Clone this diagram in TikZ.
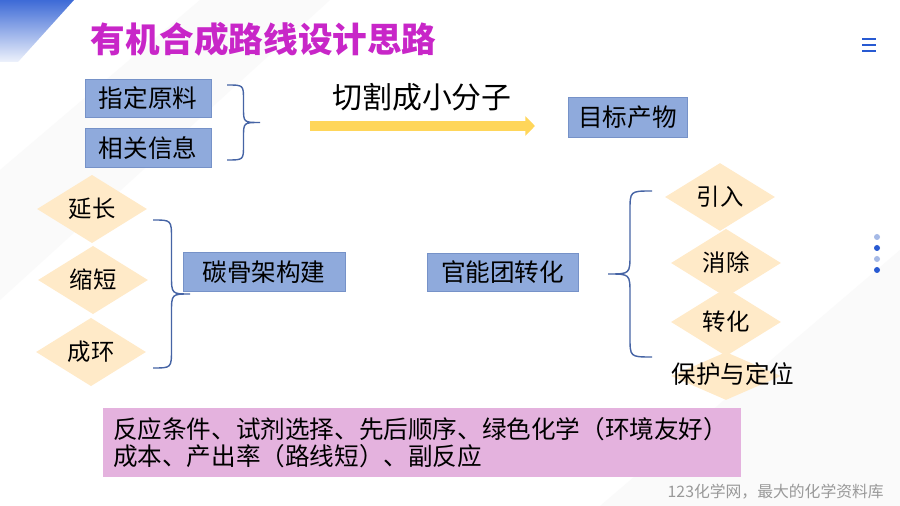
\documentclass[tikz,border=0pt]{standalone}
\usepackage{fontspec}
\setmainfont{Noto Sans CJK SC}
\usepackage{xcolor}
\usetikzlibrary{arrows.meta,shapes.geometric,positioning,calc}
\definecolor{titlemag}{RGB}{200,38,200}
\definecolor{boxblue}{RGB}{143,170,220}
\definecolor{boxedge}{RGB}{118,146,200}
\definecolor{diamyel}{RGB}{255,234,200}
\definecolor{notepink}{RGB}{228,178,222}
\definecolor{arrgold}{RGB}{255,214,90}
\definecolor{braceblue}{RGB}{70,100,165}
\definecolor{iconblue}{RGB}{40,90,210}
\definecolor{dotlight}{RGB}{165,185,230}
% curly brace: top, bottom, amplitude (px, signed), curl length (px)
\newcommand{\curlybrace}[4]{%
  \draw[brcline] (#1) .. controls ($(#1)+(#3/2,0)$) .. ($(#1)+(#3/2,#4)$)
    -- ($(#1)!0.5!(#2)+(#3/2,-#4)$) .. controls ($(#1)!0.5!(#2)+(#3/2,0)$) .. ($(#1)!0.5!(#2)+(#3,0)$)
    .. controls ($(#1)!0.5!(#2)+(#3/2,0)$) .. ($(#1)!0.5!(#2)+(#3/2,#4)$)
    -- ($(#2)+(#3/2,-#4)$) .. controls ($(#2)+(#3/2,0)$) .. (#2);}

\begin{document}
\begin{tikzpicture}[
    x=0.02cm, y=-0.02cm,
    box/.style     = {rectangle, draw=boxedge, fill=boxblue, minimum height=0.77cm,
                      inner sep=0pt, align=center, font=\fontsize{14}{16}\selectfont},
    diam/.style    = {diamond, fill=diamyel, minimum width=2.2cm, minimum height=0.96cm,
                      inner sep=0pt, font=\fontsize{13.3}{15}\selectfont},
    pinkbox/.style = {rectangle, fill=notepink, minimum width=12.76cm, minimum height=1.38cm,
                      text width=12.36cm, align=left, inner sep=0pt,
                      font=\fontsize{14}{15.6}\selectfont},
    brcline/.style = {draw=braceblue, line width=0.8pt},
    bigarr/.style  = {draw=arrgold, line width=5.6pt, -{Triangle[length=5.5pt, width=10.8pt]}},
    node distance  = 0.2cm
  ]
    \useasboundingbox (0,0) rectangle (900,506);
    \fill[white] (0,0) rectangle (900,506);
    \fill[gray!4] (0,170) -- (200,0) -- (330,0) -- (0,300) -- cycle;
    \fill[gray!4] (600,506) -- (900,250) -- (900,506) -- cycle;
    \shade[top color=iconblue!90, bottom color=iconblue!8]
      (0,0) -- (74,0) -- (18,62) -- (0,62) -- cycle;

    \node[font=\fontsize{19.7}{22}\selectfont\bfseries, text=titlemag] (title) at (263.5,39) {有机合成路线设计思路};
    \foreach \yy in {39,45,51}
      \draw[iconblue, line width=1.2pt] (862,\yy) -- (876,\yy);

    \node[box, minimum width=2.52cm] (src) at (148,98.5) {指定原料};
    \node[box, minimum width=2.52cm, below=of src] (info) {相关信息};
    \coordinate (b1top) at (227,85);
    \coordinate (b1bot) at (227,160);
    \curlybrace{b1top}{b1bot}{33}{15}

    \coordinate (cutS) at (310,126);
    \coordinate (cutE) at (535,126);
    \draw[bigarr] (cutS) -- (cutE);
    \node[font=\fontsize{17}{19}\selectfont] (cutlbl) at (422,97) {切割成小分子};
    \node[box, minimum width=2.38cm, minimum height=0.8cm] (tgt) at (627.5,117) {目标产物};

    \node[diam] (ext)  at (92,209) {延长};
    \node[diam] (shrt) at (93,280) {缩短};
    \node[diam] (ring) at (91,352) {成环};
    \coordinate (b2top) at (153,220);
    \coordinate (b2bot) at (153,368);
    \curlybrace{b2top}{b2bot}{37}{19}
    \node[box, minimum width=3.24cm] (carb) at (264,272) {碳骨架构建};

    \node[box, minimum width=3.02cm] (func) at (502.5,272.5) {官能团转化};
    \coordinate (b3top) at (652,191);
    \coordinate (b3bot) at (652,357);
    \curlybrace{b3top}{b3bot}{-44}{20}
    \node[diam] (intro) at (720,197) {引入};
    \node[diam] (elim)  at (726,263) {消除};
    \node[diam] (conv)  at (726,322) {转化};
    \node[diam, label={[font=\fontsize{14}{16}\selectfont, xshift=0.14cm, yshift=0.04cm]center:保护与定位}] (prot) at (726,376) {};

    \foreach \yy/\cc in {237/dotlight,248/iconblue,259/dotlight,270/iconblue}
      \fill[\cc] (877,\yy) circle (3);

    \node[pinkbox] (note) at (422,442.5) {反应条件、试剂选择、先后顺序、绿色化学（环境友好）\\成本、产出率（路线短）、副反应};
    \node[anchor=east, text=gray!80, font=\fontsize{9}{10}\selectfont] (foot) at (890,492) {123化学网，最大的化学资料库};
  \end{tikzpicture}
\end{document}
